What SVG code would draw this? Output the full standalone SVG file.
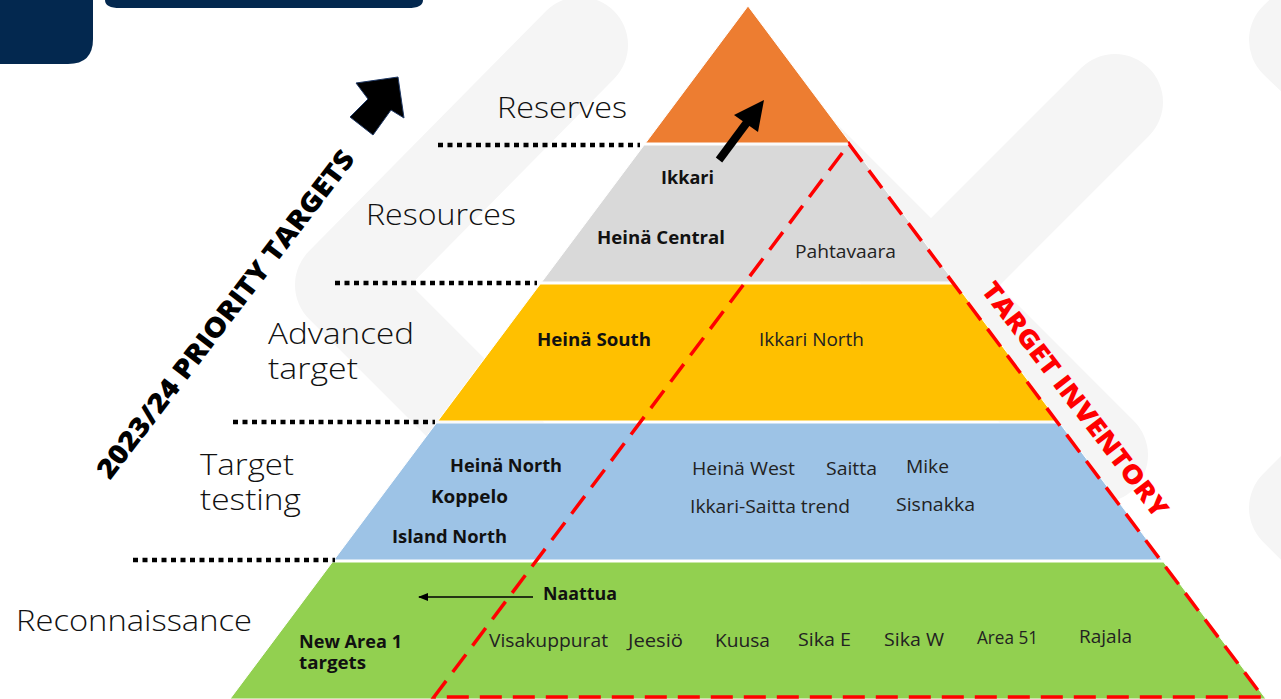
<svg xmlns="http://www.w3.org/2000/svg" width="1281" height="699" viewBox="0 0 1281 699">
<defs>
<style>
.wm{fill:none;stroke:#f5f5f5;stroke-width:96;stroke-linecap:round;stroke-linejoin:round}
.band{stroke:#ffffff;stroke-width:1}
.dots{stroke:#000;stroke-width:4.5;stroke-dasharray:5 4.5;fill:none}
.lvl{font-family:"Open Sans","Liberation Sans",sans-serif;font-weight:300;font-size:29px;fill:#111}
.b{font-family:"Open Sans","Liberation Sans",sans-serif;font-weight:700;font-size:17.5px;fill:#111}
.r{font-family:"Open Sans","Liberation Sans",sans-serif;font-weight:400;font-size:17.5px;fill:#222}
.red{fill:none;stroke:#ff0000;stroke-width:3.5;stroke-dasharray:22 11}
</style>
<marker id="ah" markerWidth="10" markerHeight="8" refX="9" refY="4" orient="auto" markerUnits="userSpaceOnUse">
<path d="M0,0 L10,4 L0,8 Z" fill="#000"/>
</marker>
</defs>
<rect width="1281" height="699" fill="#ffffff"/>
<g id="watermark">
<path class="wm" d="M580,45 L343,285 L500,442"/>
<path class="wm" d="M1115,102 L931,286 L1100,455 M931,286 L780,135"/>
<path class="wm" d="M1400,-60 L1297,40 L1400,140"/>
<path class="wm" d="M1400,405 L1297,508 L1400,610"/>
</g>
<g id="header">
<path d="M0,0 H93 V39 Q93,64 68,64 H0 Z" fill="#03284f"/>
<path d="M105,0 H423 Q423,8 408,8 H120 Q105,8 105,0 Z" fill="#03284f"/>
</g>
<g id="level-reserves">
<polygon class="band" points="748,6 850.4,143 645.6,143" fill="#ed7d31"/>
</g>
<g id="level-resources">
<polygon class="band" points="644.1,145 851.9,145 954.3,282 541.7,282" fill="#d9d9d9"/>
<text class="b" x="661" y="184" textLength="53" lengthAdjust="spacingAndGlyphs">Ikkari</text>
<text class="b" x="597" y="244" textLength="128" lengthAdjust="spacingAndGlyphs">Heinä Central</text>
<text class="r" x="795" y="258" textLength="101" lengthAdjust="spacingAndGlyphs">Pahtavaara</text>
</g>
<g id="level-advanced">
<polygon class="band" points="540.2,284 955.8,284 1058.2,421 437.8,421" fill="#ffc000"/>
<text class="b" x="537" y="346" textLength="114" lengthAdjust="spacingAndGlyphs">Heinä South</text>
<text class="r" x="759" y="346" textLength="105" lengthAdjust="spacingAndGlyphs">Ikkari North</text>
</g>
<g id="level-testing">
<polygon class="band" points="436.3,423 1059.7,423 1162.1,560 333.9,560" fill="#9dc3e6"/>
<text class="b" x="450" y="472" textLength="112" lengthAdjust="spacingAndGlyphs">Heinä North</text>
<text class="b" x="431" y="503" textLength="77" lengthAdjust="spacingAndGlyphs">Koppelo</text>
<text class="b" x="392" y="543" textLength="115" lengthAdjust="spacingAndGlyphs">Island North</text>
<text class="r" x="692" y="475" textLength="103" lengthAdjust="spacingAndGlyphs">Heinä West</text>
<text class="r" x="826" y="475" textLength="51" lengthAdjust="spacingAndGlyphs">Saitta</text>
<text class="r" x="906" y="473" textLength="43" lengthAdjust="spacingAndGlyphs">Mike</text>
<text class="r" x="690" y="513" textLength="160" lengthAdjust="spacingAndGlyphs">Ikkari-Saitta trend</text>
<text class="r" x="896" y="511" textLength="79" lengthAdjust="spacingAndGlyphs">Sisnakka</text>
</g>
<g id="level-recon">
<polygon class="band" points="332.4,562 1163.6,562 1266,699 230,699" fill="#92d050"/>
<text class="b" x="543" y="600" textLength="74" lengthAdjust="spacingAndGlyphs">Naattua</text>
<text class="b" x="299" y="648" textLength="103" lengthAdjust="spacingAndGlyphs">New Area 1</text>
<text class="b" x="299" y="669" textLength="67" lengthAdjust="spacingAndGlyphs">targets</text>
<text class="r" x="489" y="647" textLength="119" lengthAdjust="spacingAndGlyphs">Visakuppurat</text>
<text class="r" x="628" y="647" textLength="55" lengthAdjust="spacingAndGlyphs">Jeesiö</text>
<text class="r" x="715" y="647" textLength="55" lengthAdjust="spacingAndGlyphs">Kuusa</text>
<text class="r" x="798" y="646" textLength="53" lengthAdjust="spacingAndGlyphs">Sika E</text>
<text class="r" x="884" y="646" textLength="60" lengthAdjust="spacingAndGlyphs">Sika W</text>
<text class="r" x="977" y="644" textLength="61" lengthAdjust="spacingAndGlyphs">Area 51</text>
<text class="r" x="1079" y="643" textLength="53" lengthAdjust="spacingAndGlyphs">Rajala</text>
</g>
<g id="target-inventory">
<path class="red" d="M849,144 L1263,697 L434,697 Z"/>
<text x="0" y="0" transform="translate(1068,405) rotate(52.6)" text-anchor="middle" textLength="288" lengthAdjust="spacingAndGlyphs" font-family="Open Sans, Liberation Sans, sans-serif" font-weight="800" font-size="26" fill="#ff0000">TARGET INVENTORY</text>
</g>
<g id="dotted-lines">
<line class="dots" x1="438" y1="145" x2="640" y2="145"/>
<line class="dots" x1="335" y1="283" x2="537" y2="283"/>
<line class="dots" x1="233" y1="422" x2="435" y2="422"/>
<line class="dots" x1="133" y1="560" x2="335" y2="560"/>
</g>
<g id="level-labels">
<text class="lvl" x="497" y="118" textLength="130" lengthAdjust="spacingAndGlyphs">Reserves</text>
<text class="lvl" x="366" y="225" textLength="150" lengthAdjust="spacingAndGlyphs">Resources</text>
<text class="lvl" x="268" y="344" textLength="146" lengthAdjust="spacingAndGlyphs">Advanced</text>
<text class="lvl" x="268" y="379" textLength="90" lengthAdjust="spacingAndGlyphs">target</text>
<text class="lvl" x="200" y="475" textLength="94" lengthAdjust="spacingAndGlyphs">Target</text>
<text class="lvl" x="200" y="510" textLength="101" lengthAdjust="spacingAndGlyphs">testing</text>
<text class="lvl" x="16" y="631" textLength="236" lengthAdjust="spacingAndGlyphs">Reconnaissance</text>
</g>
<g id="priority">
<text x="0" y="0" transform="translate(233,320) rotate(-52.6)" text-anchor="middle" textLength="405" lengthAdjust="spacingAndGlyphs" font-family="Open Sans, Liberation Sans, sans-serif" font-weight="800" font-size="27" fill="#000">2023/24 PRIORITY TARGETS</text>
<polygon points="398,77 404,118 391,110 373,135 350,117 368,99 356,83" fill="#000" stroke="#1f3864" stroke-width="1"/>
</g>
<g id="connectors">
<line x1="719" y1="160" x2="748" y2="121" stroke="#000" stroke-width="8"/>
<polygon points="764,100 734,115 758,132" fill="#000"/>
<line x1="533" y1="597" x2="419" y2="597" stroke="#000" stroke-width="1.3" marker-end="url(#ah)"/>
</g>
</svg>
